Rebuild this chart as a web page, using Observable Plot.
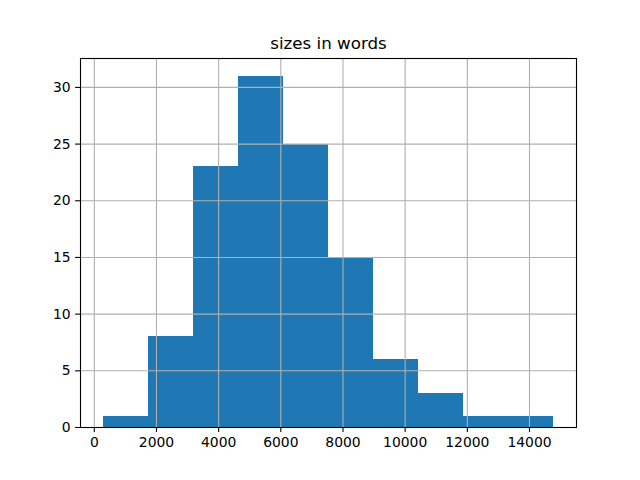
<!DOCTYPE html>
<html>
<head>
<meta charset="utf-8">
<script src="https://cdn.jsdelivr.net/npm/d3@7"></script>
<script src="https://cdn.jsdelivr.net/npm/@observablehq/plot@0.6"></script>
<style>
  html, body { margin: 0; padding: 0; background: white; }
</style>
</head>
<body>
<div id="chart"></div>
<script>
const titleText = "sizes in words";
const binEdges = [281, 1732, 3182, 4633, 6083, 7534, 8985, 10435, 11886, 13336, 14787];
const counts = [1, 8, 23, 31, 25, 15, 6, 3, 1, 1];
const xTicks = [0, 2000, 4000, 6000, 8000, 10000, 12000, 14000];
const yTicks = [0, 5, 10, 15, 20, 25, 30];

const bins = counts.map((c, i) => ({x1: binEdges[i], x2: binEdges[i + 1], y: c}));
const span = binEdges[binEdges.length - 1] - binEdges[0];
const xDomain = [binEdges[0] - 0.05 * span, binEdges[binEdges.length - 1] + 0.05 * span];
const yDomain = [0, d3.max(counts) * 1.05];

const chart = Plot.plot({
  width: 640,
  height: 480,
  marginLeft: 80,
  marginRight: 64,
  marginTop: 58,
  marginBottom: 53,
  style: {fontFamily: "DejaVu Sans", fontSize: "13.9px", background: "white", color: "black"},
  x: {domain: xDomain},
  y: {domain: yDomain},
  marks: [
    Plot.rectY(bins, {x1: "x1", x2: "x2", y: "y", fill: "#1f77b4", inset: 0, shapeRendering: "crispEdges"}),
    Plot.ruleX(xTicks, {stroke: "#b0b0b0", strokeWidth: 1.1}),
    Plot.ruleY(yTicks, {stroke: "#b0b0b0", strokeWidth: 1.1}),
    Plot.frame({stroke: "black", strokeWidth: 1.1}),
    Plot.axisX({ticks: xTicks, tickSize: 4.9, tickPadding: 4.9, label: null, tickFormat: d => String(d), strokeWidth: 1.1}),
    Plot.axisY({ticks: yTicks, tickSize: 4.9, tickPadding: 4.9, label: null, tickFormat: d => String(d), strokeWidth: 1.1}),
    Plot.text([titleText], {frameAnchor: "top", lineAnchor: "bottom", dy: -10, fontSize: 16.7, fill: "black"})
  ]
});
document.getElementById("chart").appendChild(chart);
</script>
</body>
</html>
